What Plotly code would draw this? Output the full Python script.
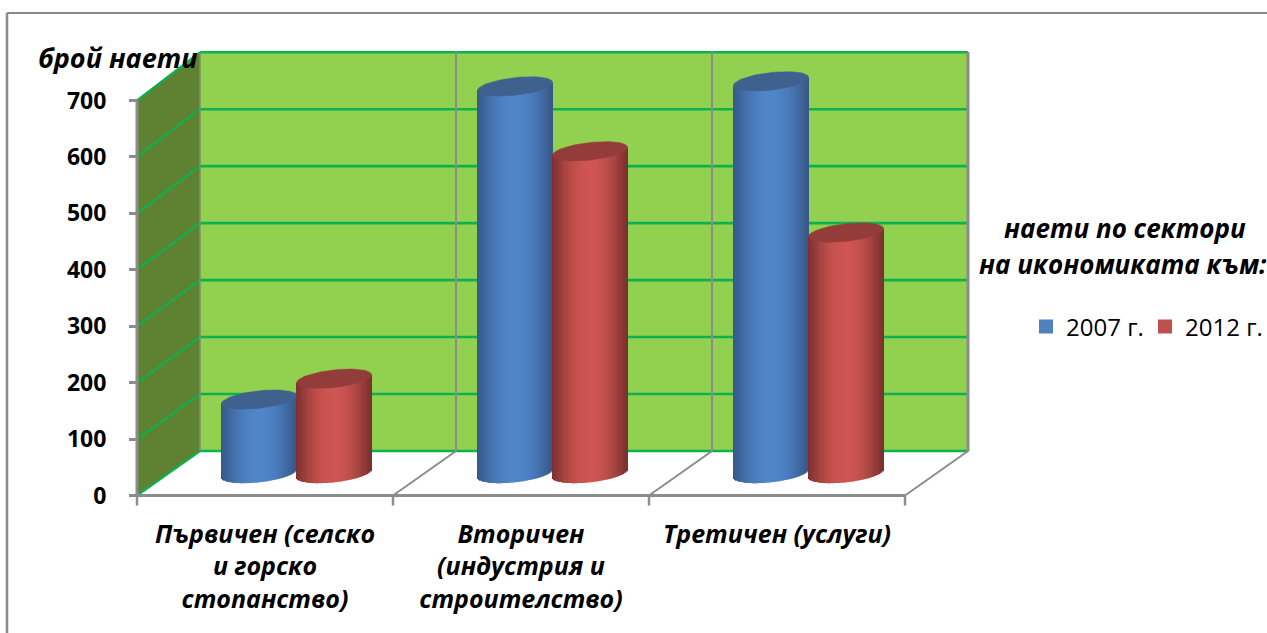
import numpy as np
import plotly.graph_objects as go

# ---- data -----------------------------------------------------------------
categories = ["Първичен (селско<br>и горско<br>стопанство)",
              "Вторичен<br>(индустрия и<br>строителство)",
              "Третичен (услуги)"]
series_names = ["2007 г.", "2012 г."]
values_2007 = [131, 686, 695]
values_2012 = [168, 571, 427]
y_ticks = [0, 100, 200, 300, 400, 500, 600, 700]

# ---- style / geometry ------------------------------------------------------
W, H = 1267, 633
PX_X = 256.0          # px per category
PX_Y = 0.5643         # px per value unit
X0_PX, Y0_PX = 137, 495.5
DX, DY = 63 / PX_X, 44.5 / PX_Y        # depth of the 3-D box
BACK = 1.0095                           # back wall is slightly larger
FLOOR = 22 / PX_Y                       # base of the cylinders above axis zero
BAR_W = 75 / PX_X
ELL_B = 8.8 / PX_Y
ELL_S = 4.0 / PX_Y
GREEN, WALL, SIDE, GREY = "#0DB14F", "#92D050", "#5F8232", "#8C8C8C"
FONT = "Open Sans"


def mix(c1, c2, f):
    return "rgb(%d,%d,%d)" % tuple(round(a + (b - a) * f) for a, b in zip(c1, c2))


def cylinder(cx, value, dark, light, cap):
    n = 60
    w = BAR_W / n
    t = (np.arange(n) + 0.5) / n * 2 - 1
    shade = (1 - np.abs(t) ** 2.0) ** 1.1
    cols = [mix(dark, light, s) for s in shade]
    bottom = FLOOR + ELL_S * t - ELL_B * np.sqrt(1 - t ** 2)
    top = FLOOR + value + ELL_S * t
    body = go.Bar(x=cx + t * BAR_W / 2, y=top - bottom, base=bottom, width=w * 1.4,
                  marker=dict(color=cols, line=dict(width=0)),
                  showlegend=False, hoverinfo="skip", cliponaxis=False)
    a = np.linspace(0, 2 * np.pi, 90)
    tt = np.cos(a)
    c = go.Scatter(x=cx + tt * BAR_W / 2,
                   y=FLOOR + value + ELL_S * tt + ELL_B * np.sin(a),
                   mode="lines", fill="toself", fillcolor=cap,
                   line=dict(color=cap, width=0.5),
                   showlegend=False, hoverinfo="skip")
    return [body, c]


fig = go.Figure()

# walls, floor and grid, drawn through the axes
shapes = []


def poly(pts, fill=None, line=None, lw=0, layer="below"):
    path = "M " + " L ".join(f"{x},{y}" for x, y in pts) + (" Z" if fill else "")
    shapes.append(dict(type="path", path=path, xref="x", yref="y", layer=layer,
                       fillcolor=fill or "rgba(0,0,0,0)",
                       line=dict(color=line or "rgba(0,0,0,0)", width=lw)))


ymax = max(y_ticks)
n_cat = len(categories)
wall = lambda v: DY + v * BACK
poly([(0, 0), (0, ymax), (DX, wall(ymax)), (DX, wall(0))], fill=SIDE)
poly([(DX, wall(0)), (DX, wall(ymax)), (DX + n_cat, wall(ymax)), (DX + n_cat, wall(0))], fill=WALL)
for v in y_ticks:
    poly([(DX, wall(v)), (DX + n_cat, wall(v))], line=GREEN, lw=2.6)
    poly([(0, v), (DX, wall(v))], line=GREEN, lw=2.2)
for i in range(1, n_cat + 1):
    poly([(i, 0), (i + DX, wall(0)), (i + DX, wall(ymax))], line=GREY, lw=2)
poly([(DX, wall(0)), (DX, wall(ymax))], line="#7F8F6A", lw=1.5)
poly([(n_cat + DX, wall(0)), (n_cat + DX, wall(ymax))], line=GREY, lw=3)
poly([(0, 0), (0, ymax)], line=GREY, lw=3)
poly([(0, 0), (n_cat, 0)], line=GREY, lw=3)
for i in range(n_cat + 1):
    poly([(i, 0), (i, -10 / PX_Y)], line=GREY, lw=2.5)

BLUE = dict(dark=(54, 88, 134), light=(80, 133, 202), cap="#3E618E")
RED = dict(dark=(122, 48, 46), light=(206, 85, 82), cap="#933C39")

for i in range(n_cat):
    cx = i + 0.5 + DX / 2
    for tr in cylinder(cx - BAR_W / 2, values_2007[i], **BLUE):
        fig.add_trace(tr)
    for tr in cylinder(cx + BAR_W / 2, values_2012[i], **RED):
        fig.add_trace(tr)

for name, col in zip(series_names, ["#4F81BD", "#C0504D"]):
    fig.add_trace(go.Scatter(x=[None], y=[None], name=name, mode="markers",
                             marker=dict(color=col, symbol="square", size=14)))

TITLE_FONT = dict(family=FONT, size=26, color="black", weight="bold", style="italic")
fig.update_layout(
    width=W, height=H, margin=dict(l=0, r=0, t=0, b=0, autoexpand=False), autosize=False,
    paper_bgcolor="white", plot_bgcolor="white", barmode="overlay",
    shapes=shapes + [
        dict(type="line", xref="paper", yref="paper", x0=7 / W, x1=7 / W, y0=0, y1=1 - 13 / H,
             line=dict(color="#8A8A8A", width=2.5)),
        dict(type="line", xref="paper", yref="paper", x0=7 / W, x1=1, y0=1 - 13 / H, y1=1 - 13 / H,
             line=dict(color="#8A8A8A", width=2)),
    ],
    xaxis=dict(domain=[0, 1], range=[-X0_PX / PX_X, (W - X0_PX) / PX_X],
               anchor="free", position=1 - Y0_PX / H, showgrid=False, zeroline=False,
               showline=False, ticks="", tickmode="array", automargin=False,
               tickvals=[0.5, 1.5, 2.5], ticktext=categories, ticklabelstandoff=21,
               tickangle=0,
               tickfont=dict(family=FONT, size=25, color="black", weight="bold", style="italic")),
    yaxis=dict(domain=[0, 1], range=[-(H - Y0_PX) / PX_Y, Y0_PX / PX_Y],
               anchor="free", position=X0_PX / W, showgrid=False, zeroline=False,
               showline=False, ticks="outside", ticklen=8, tickwidth=2.5, tickcolor=GREY,
               tickmode="array", tickvals=y_ticks, ticklabelstandoff=18, automargin=False,
               tickfont=dict(family=FONT, size=23, color="black", weight="bold")),
    legend=dict(orientation="h", x=1026 / W, y=1 - 327 / H, xanchor="left", yanchor="middle",
                font=dict(family=FONT, size=24, color="black"), bgcolor="rgba(0,0,0,0)",
                entrywidth=74, entrywidthmode="pixels", itemwidth=30,
                itemclick=False, itemdoubleclick=False),
    annotations=[
        dict(text="брой наети", xref="paper", yref="paper", x=118 / W, y=1 - 58 / H,
             xanchor="center", yanchor="middle", showarrow=False,
             font=dict(TITLE_FONT, size=27)),
        dict(text="наети по сектори", xref="paper", yref="paper", x=1125 / W, y=1 - 228 / H,
             xanchor="center", yanchor="middle", showarrow=False, font=TITLE_FONT),
        dict(text="на икономиката към:", xref="paper", yref="paper", x=1123 / W, y=1 - 264 / H,
             xanchor="center", yanchor="middle", showarrow=False, font=TITLE_FONT),
    ],
)

fig.write_html("out.html", config={"displayModeBar": False},
               post_script="document.body.style.margin='0';")
